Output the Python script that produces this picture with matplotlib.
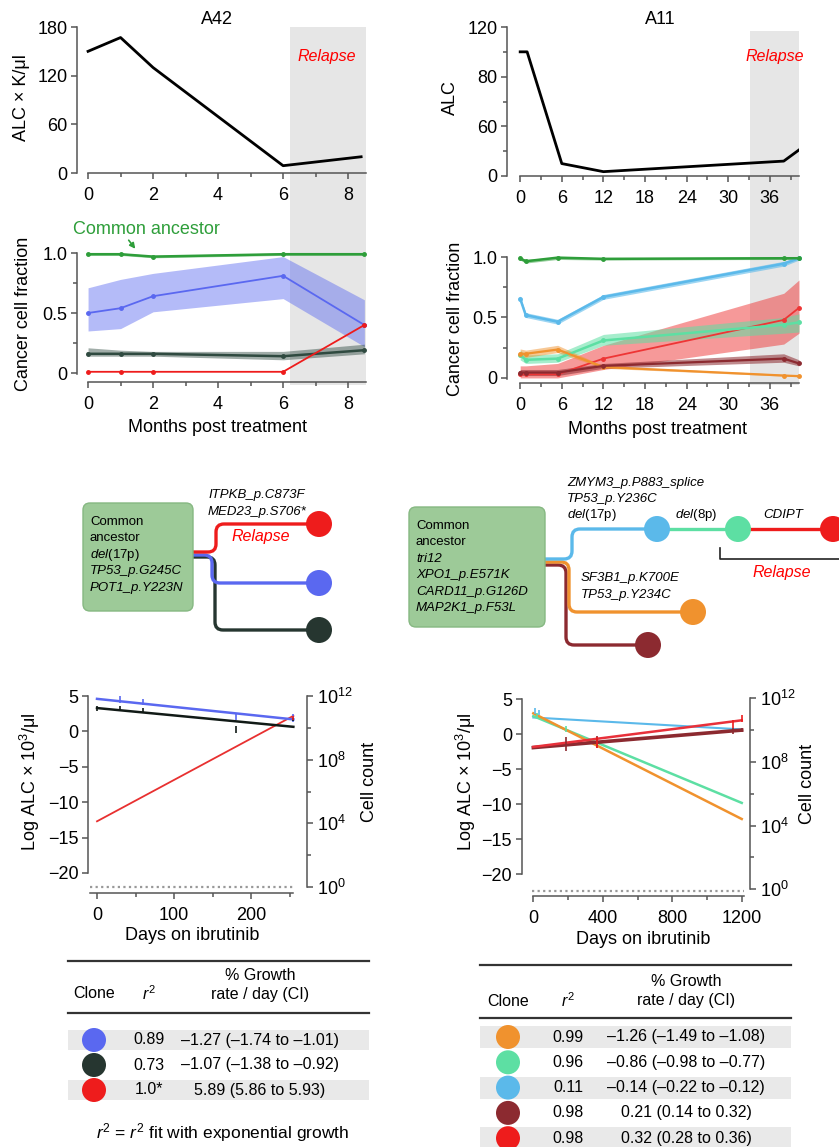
import matplotlib
matplotlib.use("Agg")
import matplotlib.pyplot as plt
from matplotlib.patches import Circle, FancyBboxPatch, PathPatch, Rectangle
from matplotlib.path import Path
from matplotlib.ticker import FixedLocator, NullFormatter

plt.rcParams['font.family'] = ['Liberation Sans', 'DejaVu Sans']
plt.rcParams['mathtext.fontset'] = 'custom'
plt.rcParams['mathtext.rm'] = 'Liberation Sans'
plt.rcParams['mathtext.it'] = 'Liberation Sans:italic'

# ---------------- data ----------------
a42_alc_months = [0, 1, 2, 6, 8.4]
a42_alc = [150, 167, 130, 9, 20]
a11_alc_months = [0, 1, 6, 12, 38, 40.2]
a11_alc = [100, 100, 10, 3.5, 12, 21]
a11_alc_yticklabels = ['0', '60', '80', '120']   # as printed in the source

a42_relapse = (6.2, 8.55)
a11_relapse = (33.1, 40.2)

a42_months = [0, 1, 2, 6, 8.5]
a42_green = [0.99, 0.99, 0.97, 0.99, 0.99]
a42_green_lo = [0.98, 0.98, 0.96, 0.98, 0.98]
a42_green_hi = [1.0, 1.0, 0.98, 1.0, 1.0]
a42_blue = [0.50, 0.54, 0.64, 0.81, 0.40]
a42_blue_lo = [0.35, 0.37, 0.51, 0.62, 0.22]
a42_blue_hi = [0.71, 0.78, 0.83, 0.97, 0.61]
a42_dark = [0.16, 0.16, 0.16, 0.14, 0.19]
a42_dark_lo = [0.14, 0.14, 0.14, 0.11, 0.16]
a42_dark_hi = [0.21, 0.19, 0.18, 0.18, 0.24]
a42_red = [0.01, 0.01, 0.01, 0.01, 0.40]

a11_months = [0, 0.8, 5.4, 12, 38, 40.2]
a11_green = [0.99, 0.965, 0.995, 0.985, 0.99, 0.99]
a11_green_lo = [0.975, 0.95, 0.98, 0.975, 0.98, 0.98]
a11_green_hi = [1.0, 0.98, 1.0, 0.995, 1.0, 1.0]
a11_lblue = [0.655, 0.52, 0.465, 0.67, 0.945, 0.99]
a11_lblue_lo = [0.63, 0.50, 0.445, 0.65, 0.925, 0.975]
a11_lblue_hi = [0.68, 0.54, 0.485, 0.69, 0.965, 1.0]
a11_mint = [0.19, 0.15, 0.16, 0.31, 0.44, 0.46]
a11_mint_lo = [0.15, 0.12, 0.13, 0.27, 0.37, 0.38]
a11_mint_hi = [0.23, 0.19, 0.20, 0.36, 0.50, 0.53]
a11_orange = [0.20, 0.20, 0.235, 0.09, 0.02, 0.015]
a11_orange_lo = [0.17, 0.17, 0.21, 0.08, 0.015, 0.01]
a11_orange_hi = [0.24, 0.23, 0.27, 0.10, 0.03, 0.025]
a11_red = [0.035, 0.03, 0.03, 0.16, 0.48, 0.58]
a11_red_lo = [0.0, 0.0, 0.0, 0.07, 0.28, 0.37]
a11_red_hi = [0.10, 0.10, 0.12, 0.27, 0.70, 0.81]
a11_dred = [0.045, 0.045, 0.045, 0.10, 0.16, 0.12]
a11_dred_lo = [0.02, 0.02, 0.02, 0.08, 0.13, 0.10]
a11_dred_hi = [0.07, 0.07, 0.07, 0.12, 0.20, 0.15]

# growth fits (log ALC at first / last day)
a42_fit_days = [0, 255]
a42_fit_blue = [4.6, 1.7]
a42_fit_dark = [3.3, 0.65]
a42_fit_red = [-12.7, 2.2]
a42_obs_blue = ([30, 60, 180, 255], [4.5, 4.2, 2.1, 1.9], [0.45, 0.45, 0.45, 0.6])
a42_obs_dark = ([0, 30, 60, 180, 255], [3.3, 3.3, 2.9, 0.3, 1.7], [0.35, 0.3, 0.35, 0.5, 0.25])
a42_obs_red = ([255], [1.9], [0.3])

a11_fit_days = [0, 1200]
a11_fit_lblue = [2.4, 0.7]
a11_fit_mint = [2.6, -9.8]
a11_fit_orange = [3.0, -12.1]
a11_fit_red = [-1.8, 2.0]
a11_fit_dred = [-1.9, 0.6]
a11_obs_lblue = ([10, 35], [3.3, 3.1], [0.4, 0.4])
a11_obs_mint = ([20, 190], [2.7, 0.8], [0.4, 0.4])
a11_obs_dred = ([190, 365, 1150, 1200], [-1.4, -1.1, 0.5, 0.6], [1.0, 0.8, 0.4, 0.3])
a11_obs_red = ([365, 1150, 1200], [-1.2, 1.5, 2.2], [0.8, 0.6, 0.5])

a42_tab_r2 = ['0.89', '0.73', '1.0*']
a42_tab_growth = ['\u20131.27 (\u20131.74 to \u20131.01)', '\u20131.07 (\u20131.38 to \u20130.92)',
                  '5.89 (5.86 to 5.93)']
a11_tab_r2 = ['0.99', '0.96', '0.11', '0.98', '0.98']
a11_tab_growth = ['\u20131.26 (\u20131.49 to \u20131.08)', '\u20130.86 (\u20130.98 to \u20130.77)',
                  '\u20130.14 (\u20130.22 to \u20130.12)', '0.21 (0.14 to 0.32)', '0.32 (0.28 to 0.36)']

BLUE, DARK, RED, GREEN = '#5a68f0', '#263630', '#ee1c1c', '#2e9e3a'
LBLUE, MINT, ORANGE, DRED = '#5bb9ea', '#5ddfa3', '#f0922e', '#8c2a30'
SPINE = '#555555'
a42_tab_colors = [BLUE, DARK, RED]
a11_tab_colors = [ORANGE, MINT, LBLUE, DRED, RED]

# ---------------- figure ----------------
W, H = 839, 1147
fig = plt.figure(figsize=(W / 100, H / 100), dpi=100)
ov = fig.add_axes([0, 0, 1, 1], facecolor='none')
ov.set_xlim(0, W); ov.set_ylim(H, 0); ov.axis('off')
ov.set_zorder(10)


def add_px(l, t, r, b):
    return fig.add_axes([l / W, 1 - b / H, (r - l) / W, (b - t) / H], facecolor='none')


def style(ax, xt, xm, yt, ym, xb, yb, fs=13):
    for s in ['top', 'right']:
        ax.spines[s].set_visible(False)
    for s in ['left', 'bottom']:
        ax.spines[s].set_color(SPINE); ax.spines[s].set_linewidth(1.1)
    ax.spines['bottom'].set_bounds(*xb); ax.spines['left'].set_bounds(*yb)
    ax.set_xticks(xt); ax.set_xticks(xm, minor=True)
    ax.set_yticks(yt); ax.set_yticks(ym, minor=True)
    ax.tick_params(which='both', direction='out', color=SPINE, width=1.1, labelsize=fs)
    ax.tick_params(which='major', length=4); ax.tick_params(which='minor', length=3)
    ax.tick_params(axis='x', pad=6); ax.tick_params(axis='y', pad=3)


# --- top ALC panels
ax = add_px(77, 27, 366, 173)
ax.set_xlim(-0.34, 8.55); ax.set_ylim(0, 180)
ax.axvspan(*a42_relapse, ymin=-1.45, ymax=1.0, color='#e6e6e6', lw=0, clip_on=False, zorder=0)
ax.plot(a42_alc_months, a42_alc, color='black', lw=2)
style(ax, [0, 2, 4, 6, 8], [1, 3, 5, 7], [0, 60, 120, 180], [], (0, 8.55), (0, 180))

ax = add_px(507, 27, 799, 176)
ax.set_xlim(-1.9, 40.2); ax.set_ylim(0, 120)
ax.axvspan(*a11_relapse, ymin=-1.4, ymax=0.97, color='#e6e6e6', lw=0, clip_on=False, zorder=0)
ax.plot(a11_alc_months, a11_alc, color='black', lw=2)
style(ax, range(0, 37, 6), range(3, 40, 6), [0, 40, 80, 120], [20, 60, 100], (0, 40.2), (0, 120))
ax.set_yticklabels(a11_alc_yticklabels)

# --- CCF panels
def ccf(ax, t, mid, lo, hi, color, band_alpha=0.45, lw=1.3):
    if lo is not None:
        ax.fill_between(t, lo, hi, color=color, alpha=band_alpha, lw=0)
    ax.plot(t, mid, color=color, lw=lw, marker='o', ms=2.5, clip_on=False)


ax = add_px(77, 249.4, 366, 382)
ax.set_xlim(-0.34, 8.55); ax.set_ylim(-0.075, 1.03)
ccf(ax, a42_months, a42_blue, a42_blue_lo, a42_blue_hi, BLUE, 0.45)
ccf(ax, a42_months, a42_dark, a42_dark_lo, a42_dark_hi, '#2f4a40', 0.45, 1.8)
ccf(ax, a42_months, a42_red, None, None, RED)
ccf(ax, a42_months, a42_green, a42_green_lo, a42_green_hi, GREEN, 0.5, 1.8)
style(ax, [0, 2, 4, 6, 8], [1, 3, 5, 7], [0, 0.5, 1.0], [0.25, 0.75], (0, 8.55), (-0.01, 1.0))
ax.set_yticklabels(['0', '0.5', '1.0'])

ax = add_px(507, 253.4, 799, 382.8)
ax.set_xlim(-1.9, 40.2); ax.set_ylim(-0.04, 1.03)
ccf(ax, a11_months, a11_red, a11_red_lo, a11_red_hi, '#ee3535', 0.5)
ccf(ax, a11_months, a11_mint, a11_mint_lo, a11_mint_hi, MINT, 0.55, 1.8)
ccf(ax, a11_months, a11_orange, a11_orange_lo, a11_orange_hi, ORANGE, 0.5, 1.6)
ccf(ax, a11_months, a11_dred, a11_dred_lo, a11_dred_hi, DRED, 0.55, 1.6)
ccf(ax, a11_months, a11_lblue, a11_lblue_lo, a11_lblue_hi, LBLUE, 0.6, 1.8)
ccf(ax, a11_months, a11_green, a11_green_lo, a11_green_hi, GREEN, 0.5, 1.8)
style(ax, range(0, 37, 6), range(3, 40, 6), [0, 0.5, 1.0], [0.25, 0.75], (0, 40.2), (-0.01, 1.0))
ax.set_yticklabels(['0', '0.5', '1.0'])

# --- growth panels
def growth(box, xlim, ylim, off, scale, xt, xm, xb, dot_x, dot_y, fits, obs):
    ax = add_px(*box)
    ax.set_xlim(*xlim); ax.set_ylim(*ylim)
    ax.plot(dot_x, [dot_y, dot_y], color='#999999', lw=1.6, ls=(0, (1, 1.5)))
    for days, vals, c, lw in fits:
        ax.plot(days, vals, color=c, lw=lw)
    for (d, v, e), c in obs:
        ax.errorbar(d, v, yerr=e, fmt='none', ecolor=c, elinewidth=1.2, capsize=0)
    style(ax, xt, xm, [5, 0, -5, -10, -15, -20], [], xb, (-20, 5))
    ax2 = ax.twinx()
    ax2.set_yscale('log')
    ax2.set_ylim(10 ** ((ylim[0] + off) / scale), 10 ** ((ylim[1] + off) / scale))
    for s in ['top', 'left', 'bottom']:
        ax2.spines[s].set_visible(False)
    ax2.spines['right'].set_color(SPINE); ax2.spines['right'].set_linewidth(1.1)
    ax2.spines['right'].set_bounds(1, 1e12)
    ax2.yaxis.set_major_locator(FixedLocator([1, 1e4, 1e8, 1e12]))
    ax2.yaxis.set_minor_locator(FixedLocator([1e2, 1e6, 1e10]))
    ax2.yaxis.set_minor_formatter(NullFormatter())
    ax2.tick_params(which='both', direction='out', color=SPINE, width=1.1, labelsize=13, pad=3)
    ax2.tick_params(which='major', length=4); ax2.tick_params(which='minor', length=3)
    return ax


growth((88, 693.9, 307, 892.8), (-11.7, 272.7), (-22.8, 5.3), 22.0, 2.25,
       [0, 100, 200], [50, 150, 250], (-9, 255), [-9, 255], -22.0,
       [(a42_fit_days, a42_fit_red, '#e83030', 1.3),
        (a42_fit_days, a42_fit_blue, BLUE, 1.8),
        (a42_fit_days, a42_fit_dark, '#111a16', 1.8)],
       [(a42_obs_blue, BLUE), (a42_obs_dark, '#111a16'), (a42_obs_red, RED)])

growth((521.7, 697.2, 750, 896), (-67, 1247.6), (-23.1, 5.3), 22.14, 2.273,
       [0, 400, 800, 1200], [200, 600, 1000], (0, 1215), [-10, 1215], -22.4,
       [(a11_fit_days, a11_fit_lblue, LBLUE, 1.5),
        (a11_fit_days, a11_fit_mint, MINT, 1.8),
        (a11_fit_days, a11_fit_orange, ORANGE, 1.8),
        (a11_fit_days, a11_fit_dred, DRED, 2.6),
        (a11_fit_days, a11_fit_red, '#e8303a', 1.8)],
       [(a11_obs_lblue, LBLUE), (a11_obs_mint, MINT), (a11_obs_dred, DRED), (a11_obs_red, RED)])

# ---------------- text labels ----------------
ov.text(217, 20, 'A42', fontsize=13, ha='center', va='center')
ov.text(660, 20, 'A11', fontsize=13, ha='center', va='center')
ov.text(327, 57, 'Relapse', fontsize=11.5, style='italic', color='red', ha='center', va='center')
ov.text(775, 57, 'Relapse', fontsize=11.5, style='italic', color='red', ha='center', va='center')
ov.text(22, 98, 'ALC \u00d7 K/\u03bcl', fontsize=13, rotation=90, ha='center', va='center')
ov.text(450, 98, 'ALC', fontsize=13, rotation=90, ha='center', va='center')
ov.text(24, 314, 'Cancer cell fraction', fontsize=13, rotation=90, ha='center', va='center')
ov.text(456, 319, 'Cancer cell fraction', fontsize=13, rotation=90, ha='center', va='center')
ov.text(217, 427, 'Months post treatment', fontsize=13, ha='center', va='center')
ov.text(658, 430, 'Months post treatment', fontsize=13, ha='center', va='center')
ov.annotate('', xy=(137, 251), xytext=(127, 238),
            arrowprops=dict(arrowstyle='-|>', color=GREEN, lw=1.2, mutation_scale=8))
ov.text(146, 230, 'Common ancestor', fontsize=13, color=GREEN, ha='center', va='center')
ov.text(30, 782, 'Log ALC \u00d7 10$^3$/\u03bcl', fontsize=13, rotation=90, ha='center', va='center')
ov.text(466, 782, 'Log ALC \u00d7 10$^3$/\u03bcl', fontsize=13, rotation=90, ha='center', va='center')
ov.text(370, 782, 'Cell count', fontsize=13, rotation=90, ha='center', va='center')
ov.text(808, 784, 'Cell count', fontsize=13, rotation=90, ha='center', va='center')
ov.text(192, 935, 'Days on ibrutinib', fontsize=13, ha='center', va='center')
ov.text(643, 940, 'Days on ibrutinib', fontsize=13, ha='center', va='center')

# ---------------- clone trees ----------------
def elbow(x0, y0, xb, y1, x1, color, r=8, lw=2.4):
    if abs(y1 - y0) < 1:
        verts = [(x0, y0), (x1, y1)]
        codes = [Path.MOVETO, Path.LINETO]
    else:
        s = 1 if y1 > y0 else -1
        r = min(r, abs(y1 - y0) / 2)
        verts = [(x0, y0), (xb - r, y0), (xb, y0), (xb, y0 + s * r), (xb, y1 - s * r),
                 (xb, y1), (xb + r, y1), (x1, y1)]
        codes = [Path.MOVETO, Path.LINETO, Path.CURVE3, Path.CURVE3, Path.LINETO,
                 Path.CURVE3, Path.CURVE3, Path.LINETO]
    ov.add_patch(PathPatch(Path(verts, codes), fc='none', ec=color, lw=lw, capstyle='butt'))


def node(x, y, color, r=13):
    ov.add_patch(Circle((x, y), r, fc=color, ec='none', zorder=3, clip_on=False))


def ancestor_box(l, t, r, b, lines):
    ov.add_patch(FancyBboxPatch((l, t), r - l, b - t, boxstyle='round,pad=0,rounding_size=7',
                                fc='#9dca98', ec='#86b882', lw=1, zorder=2))
    for i, s in enumerate(lines):
        ov.text(l + 7, t + 19 + i * 16.4, s, fontsize=9.5, va='center', zorder=4,
                style='normal' if i < 2 or s.startswith('$') else 'italic')


# left tree
elbow(193, 557, 215, 630, 319, DARK)
elbow(193, 555, 212, 583, 319, BLUE)
elbow(193, 552, 216, 524, 319, RED)
node(319, 524, RED); node(319, 583, BLUE); node(319, 630, DARK)
ancestor_box(83, 503, 193, 611, ['Common', 'ancestor', r'$\mathit{del}$(17p)',
                                 'TP53_p.G245C', 'POT1_p.Y223N'])
ov.text(208, 495, 'ITPKB_p.C873F', fontsize=9.5, style='italic', va='center')
ov.text(208, 512, 'MED23_p.S706*', fontsize=9.5, style='italic', va='center')
ov.text(231, 537, 'Relapse', fontsize=11.5, style='italic', color='red', va='center')

# right tree
elbow(545, 565, 566, 645, 648, DRED)
elbow(545, 562, 569, 612, 693, ORANGE)
elbow(545, 559, 572, 529, 657, LBLUE)
elbow(657, 529, 0, 529, 738, MINT)
elbow(738, 529, 0, 529, 839, RED)
node(657, 529, LBLUE); node(738, 529, MINT); node(833, 529, RED)
node(693, 612, ORANGE); node(648, 645, DRED)
ancestor_box(409, 507, 545, 627, ['Common', 'ancestor', 'tri12', 'XPO1_p.E571K',
                                  'CARD11_p.G126D', 'MAP2K1_p.F53L'])
ov.text(567, 483, 'ZMYM3_p.P883_splice', fontsize=9.5, style='italic', va='center')
ov.text(567, 499, 'TP53_p.Y236C', fontsize=9.5, style='italic', va='center')
ov.text(567, 515, r'$\mathit{del}$(17p)', fontsize=9.5, va='center')
ov.text(675, 515, r'$\mathit{del}$(8p)', fontsize=9.5, va='center')
ov.text(763, 515, 'CDIPT', fontsize=9.5, style='italic', va='center')
ov.plot([720, 720, 839], [548, 559, 559], color='#222222', lw=1.2)
ov.text(782, 573, 'Relapse', fontsize=11.5, style='italic', color='red', ha='center', va='center')
ov.text(581, 578, 'SF3B1_p.K700E', fontsize=9.5, style='italic', va='center')
ov.text(581, 595, 'TP53_p.Y234C', fontsize=9.5, style='italic', va='center')

# ---------------- tables ----------------
def table(x0, x1, top, hdr_line, y_first, row_h, shade_h, cx, r2x, gx, hdr_y, colors, r2, growth_txt):
    ov.plot([x0, x1], [top, top], color='#333333', lw=1.6)
    ov.plot([x0, x1], [hdr_line, hdr_line], color='#333333', lw=1.6)
    ov.text(cx, hdr_y, 'Clone', fontsize=11.5, ha='center', va='center')
    ov.text(r2x, hdr_y, '$r^2$', fontsize=11.5, ha='center', va='center')
    ov.text(gx, hdr_y - 19, '% Growth', fontsize=11.5, ha='center', va='center')
    ov.text(gx, hdr_y, 'rate / day (CI)', fontsize=11.5, ha='center', va='center')
    for i, (c, a, g) in enumerate(zip(colors, r2, growth_txt)):
        y = y_first + i * row_h
        if i % 2 == 0:
            ov.add_patch(Rectangle((x0, y - shade_h / 2), x1 - x0, shade_h, fc='#e9e9e9', ec='none'))
        node(cx, y, c, r=12)
        ov.text(r2x, y, a, fontsize=11.5, ha='center', va='center')
        ov.text(gx, y, g, fontsize=11.5, ha='center', va='center')


table(68, 369, 961, 1013, 1040, 25, 20, 94, 149, 260, 994, a42_tab_colors, a42_tab_r2, a42_tab_growth)
table(480, 791, 965, 1018, 1037, 25.3, 22, 508, 568, 686, 1001, a11_tab_colors, a11_tab_r2, a11_tab_growth)
ov.text(223, 1133, '$r^2$ = $r^2$ fit with exponential growth', fontsize=12.5, ha='center', va='center')

fig.savefig('out.png', dpi=100)
